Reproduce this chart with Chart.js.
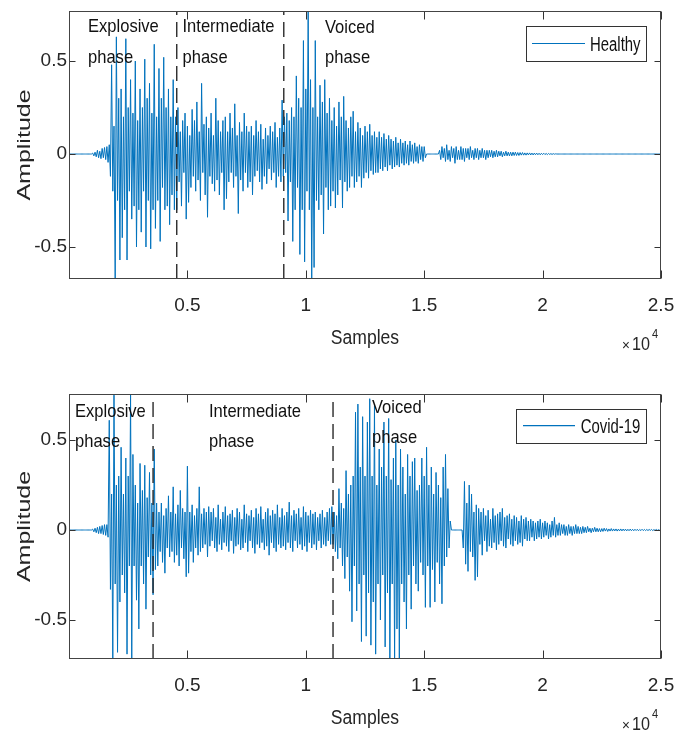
<!DOCTYPE html>
<html><head><meta charset="utf-8">
<script src="https://cdn.jsdelivr.net/npm/chart.js@4.4.1/dist/chart.umd.min.js"></script>
<style>
html,body{margin:0;padding:0;background:#fff;}
#wrap{position:relative;width:686px;height:731px;overflow:hidden;background:#fff}
canvas{position:absolute;left:0}
</style></head><body>
<div id="wrap">
<canvas id="cTop" width="686" height="366" style="top:0px"></canvas>
<canvas id="cBot" width="686" height="365" style="top:366px"></canvas>
</div>
<script>
// ---------------- data ----------------
const sampleStep = 50;                  // samples between successive readings
const xTickValues = [5000, 10000, 15000, 20000, 25000];
const yTickValues = [-0.5, 0, 0.5];
const xAxisTitle = 'Samples';
const yAxisTitle = 'Amplitude';
const phaseNames = [['Explosive', 'phase'], ['Intermediate', 'phase'], ['Voiced', 'phase']];

const healthyLabel = 'Healthy';
const healthyAmp = [
  // silence
  0,0,0,0,0,0,0,0,0,0,0,0,0,0,0,0,0,0,0,0,
  // onset noise
  0.005,-0.01,0.01,-0.015,0.02,-0.02,0.015,-0.025,0.03,-0.02,0.035,-0.03,0.04,-0.045,
  // explosive phase
  0.05,-0.12,0.48,-0.20,0.15,-0.67,0.63,-0.25,0.30,-0.57,0.35,-0.45,0.20,-0.30,0.62,-0.57,0.25,-0.20,0.40,-0.35,
  0.22,-0.28,0.50,-0.50,0.18,-0.30,0.35,-0.42,0.25,-0.20,0.51,-0.50,0.30,-0.25,0.38,-0.51,0.22,-0.30,0.59,-0.40,
  0.20,-0.25,0.46,-0.47,0.30,-0.18,0.52,-0.30,0.25,-0.28,0.35,-0.38,0.20,-0.22,0.40,-0.30,0.20,-0.30,
  // intermediate phase
  0.25,-0.15,0.12,-0.28,0.18,-0.10,0.22,-0.35,0.15,-0.26,0.10,-0.18,0.24,-0.12,0.18,-0.20,0.28,-0.14,0.12,-0.25,
  0.38,-0.10,0.16,-0.22,0.20,-0.34,0.14,-0.12,0.22,-0.16,0.10,-0.20,0.30,-0.14,0.18,-0.22,0.12,-0.10,0.18,-0.30,
  0.20,-0.24,0.12,-0.15,0.22,-0.10,0.14,-0.18,0.27,-0.12,0.10,-0.32,0.17,-0.14,0.12,-0.20,0.22,-0.10,0.15,-0.18,
  0.12,-0.15,0.15,-0.22,0.10,-0.12,0.18,-0.09,0.12,-0.15,0.16,-0.19,0.08,-0.12,0.14,-0.16,0.10,-0.08,0.15,-0.14,
  0.12,-0.10,0.17,-0.18,0.09,-0.12,0.14,-0.15,0.29,-0.12,
  // voiced phase
  0.20,-0.10,0.22,-0.36,0.18,-0.15,0.25,-0.47,0.20,-0.30,0.42,-0.18,0.30,-0.54,0.25,-0.30,0.61,-0.58,0.35,-0.20,
  0.77,-0.30,0.40,-0.67,0.25,-0.61,0.61,-0.25,0.20,-0.30,0.37,-0.22,0.28,-0.43,0.40,-0.18,0.22,-0.30,0.30,-0.28,
  0.18,-0.20,0.25,-0.29,0.15,-0.22,0.28,-0.14,0.20,-0.29,0.31,-0.15,0.18,-0.20,0.14,-0.18,0.20,-0.12,0.23,-0.18,
  0.12,-0.15,0.17,-0.12,0.14,-0.18,0.10,-0.13,0.15,-0.10,0.12,-0.13,0.16,-0.09,0.10,-0.11,0.12,-0.10,0.09,-0.10,
  0.12,-0.08,0.09,-0.09,0.11,-0.07,0.08,-0.09,0.10,-0.06,0.08,-0.08,0.07,-0.07,0.09,-0.06,0.06,-0.07,0.08,-0.05,
  0.06,-0.06,0.07,-0.05,0.05,-0.06,0.07,-0.04,0.05,-0.05,0.06,-0.04,0.04,-0.05,0.05,-0.03,0.04,-0.04,0.04,-0.02,
  // pause
  0,0,0,0,0,0,0,0,0,0,0,
  // decaying tail
  0.02,-0.03,0.04,-0.02,0.03,-0.04,0.05,-0.03,0.02,-0.04,0.04,-0.02,0.03,-0.05,0.04,-0.03,0.02,-0.03,0.04,-0.03,
  0.03,-0.04,0.03,-0.02,0.03,-0.03,0.04,-0.02,0.02,-0.03,0.03,-0.02,0.03,-0.03,0.02,-0.02,0.03,-0.02,0.02,-0.03,
  0.02,-0.02,0.02,-0.015,0.02,-0.02,0.015,-0.015,0.02,-0.015,0.015,-0.01,0.015,-0.015,0.01,-0.01,0.015,-0.01,0.01,-0.01,
  0.01,-0.01,0.01,-0.008,0.01,-0.008,0.008,-0.008,0.008,-0.006,0.008,-0.006,0.006,-0.006,0.006,-0.005,0.006,-0.005,0.005,-0.005,
  0.005,-0.004,0.005,-0.004,0.004,-0.004,0.004,-0.003,0.004,-0.003,0.003,-0.003,0.003,-0.002,0.002,-0.002,0.002,-0.001,0.001,
  // silence
  0,0,0,0,0,0,0,0,0,0,0,0,0,0,0,0,0,0,0,0,0,0,0,0,0,0,0,0,0,0,
  0,0,0,0,0,0,0,0,0,0,0,0,0,0,0,0,0,0,0,0,0,0,0,0,0,0,0,0,0,0,
  0,0,0,0,0,0,0,0,0,0,0,0,0,0,0,0,0,0,0,0,0,0,0,0,0,0,0,0,0
];
const healthyPhaseBounds = [4550, 9070];
const healthyYRange = [-0.672, 0.769];

const covidLabel = 'Covid-19';
const covidAmp = [
  // silence
  0,0,0,0,0,0,0,0,0,0,0,0,0,0,0,0,0,0,0,0,
  // onset noise
  0.005,-0.01,0.01,-0.015,0.015,-0.02,0.02,-0.02,0.025,-0.025,0.03,-0.03,0.03,-0.04,
  // explosive phase
  0.61,-0.33,0.20,-0.72,0.75,-0.30,0.25,-0.68,0.30,-0.40,0.46,-0.25,0.20,-0.35,0.40,-0.69,0.30,-0.20,0.75,-0.72,
  0.42,-0.20,0.25,-0.39,0.15,-0.55,0.37,-0.20,0.22,-0.30,0.36,-0.44,0.18,-0.15,0.32,-0.25,0.15,-0.36,0.45,-0.22,
  // intermediate phase
  0.15,-0.20,0.10,-0.12,0.15,-0.18,0.08,-0.24,0.12,-0.10,0.19,-0.15,0.10,-0.12,0.24,-0.18,0.09,-0.14,0.14,-0.20,
  0.22,-0.10,0.12,-0.16,0.10,-0.26,0.355,-0.24,0.10,-0.12,0.14,-0.18,0.08,-0.10,0.12,-0.14,0.24,-0.12,0.09,-0.10,
  0.12,-0.08,0.10,-0.15,0.13,-0.09,
  0.10,-0.06,0.12,-0.10,0.07,-0.12,0.14,-0.08,0.06,-0.11,0.10,-0.07,0.13,-0.09,0.08,-0.12,0.09,-0.06,0.11,-0.13,
  0.07,-0.09,0.12,-0.08,0.10,-0.11,0.06,-0.10,0.14,-0.07,0.09,-0.12,0.08,-0.06,0.11,-0.10,0.07,-0.13,0.12,-0.08,
  0.09,-0.10,0.13,-0.07,0.06,-0.11,0.10,-0.09,0.12,-0.14,0.08,-0.07,0.11,-0.10,0.09,-0.12,0.14,-0.08,0.07,-0.10,
  0.12,-0.09,0.08,-0.11,0.10,-0.07,0.155,-0.10,0.08,-0.12,0.11,-0.06,0.09,-0.10,0.12,-0.08,0.07,-0.11,0.13,-0.09,
  0.10,-0.12,0.08,-0.07,0.11,-0.10,0.09,-0.08,0.10,-0.11,0.07,-0.06,0.09,-0.10,0.11,-0.08,0.07,-0.09,0.10,-0.06,
  0.12,-0.08,0.13,
  // voiced phase
  -0.08,0.10,-0.12,0.08,-0.16,0.23,-0.10,0.15,-0.20,0.12,-0.27,0.33,-0.15,0.20,-0.34,0.25,-0.51,0.30,-0.20,0.655,
  -0.45,0.70,-0.30,0.35,-0.62,0.63,-0.25,0.30,-0.59,0.60,-0.35,0.73,-0.64,0.30,-0.40,0.70,-0.69,0.25,-0.30,0.45,
  -0.50,0.35,-0.25,0.60,-0.65,0.30,-0.35,0.62,-0.72,0.28,-0.30,0.40,-0.72,0.50,-0.55,0.25,-0.72,0.45,-0.30,0.35,
  -0.40,0.20,-0.55,0.42,-0.25,0.30,-0.44,0.38,-0.20,0.40,-0.30,0.22,-0.34,0.25,-0.18,0.40,-0.25,0.30,-0.43,0.46,
  -0.20,0.25,-0.43,0.35,-0.22,0.20,-0.40,0.32,-0.18,0.25,-0.30,0.18,-0.41,0.35,-0.20,0.42,-0.15,0.23,-0.10,0.05,
  // pause
  0,0,0,0,0,0,0,0,0,0,
  // decaying tail
  -0.10,0.27,-0.19,0.15,-0.23,0.25,-0.12,0.20,-0.15,0.10,-0.28,0.14,-0.26,0.12,-0.08,0.10,-0.14,0.12,-0.06,0.08,
  -0.12,0.11,-0.09,0.06,-0.10,0.12,-0.07,0.08,-0.11,0.09,-0.08,0.10,-0.06,0.12,-0.09,0.07,-0.10,0.08,-0.05,0.09,
  -0.08,0.06,-0.09,0.08,-0.06,0.07,-0.08,0.05,-0.07,0.08,-0.09,0.06,-0.05,0.07,-0.06,0.05,-0.06,0.06,-0.04,0.05,
  -0.06,0.04,-0.05,0.05,-0.04,0.06,-0.05,0.04,-0.04,0.05,-0.03,0.04,-0.05,0.03,-0.04,0.05,-0.03,0.07,-0.04,0.03,
  -0.03,0.04,-0.03,0.03,-0.02,0.03,-0.03,0.02,-0.03,0.03,-0.02,0.02,-0.03,0.02,-0.02,0.03,-0.02,0.02,-0.02,0.015,
  -0.02,0.02,-0.015,0.015,-0.015,0.02,-0.01,0.01,-0.015,0.01,-0.01,0.015,-0.01,0.01,-0.01,0.008,-0.01,0.008,-0.008,0.01,
  -0.006,0.008,-0.008,0.006,-0.006,0.008,-0.006,0.006,-0.005,0.006,-0.006,0.005,-0.005,0.006,-0.005,0.005,-0.004,0.005,-0.005,0.004,
  -0.004,0.005,-0.004,0.004,-0.004,0.004,-0.003,0.004,-0.004,0.003,-0.003,0.004,-0.003,0.003,-0.003,0.003,-0.003,0.003,-0.002,0.003,
  -0.003,0.002,-0.002,0.003,-0.002,0.002,-0.002,0.002
];
const covidPhaseBounds = [3550, 11150];
const covidYRange = [-0.717, 0.756];

// ---------------- drawing helpers ----------------
const FONT = '"Liberation Sans", Arial, Helvetica, sans-serif';
function sText(ctx, str, x, y, size, sx, o) {
  o = o || {};
  ctx.save();
  ctx.font = size + 'px ' + FONT;
  ctx.fillStyle = o.color || '#000';
  ctx.textBaseline = o.baseline || 'alphabetic';
  ctx.textAlign = 'left';
  ctx.translate(x, y);
  if (o.rot) ctx.rotate(o.rot);
  ctx.scale(sx, 1);
  const w = ctx.measureText(str).width;
  let dx = 0;
  if (o.align === 'center') dx = -w / 2; else if (o.align === 'right') dx = -w;
  ctx.fillText(str, dx, 0);
  ctx.restore();
}

function makeChart(canvasId, amp, label, bounds, yRange, L) {
  const pts = amp.map((v, i) => ({ x: i * sampleStep, y: v }));
  const datasets = [{
    label: label, data: pts, borderColor: '#0072BD', borderWidth: 1,
    pointRadius: 0, tension: 0, order: 2, fill: false
  }];
  bounds.forEach(b => datasets.push({
    label: '', data: [{ x: b, y: yRange[0] }, { x: b, y: yRange[1] }],
    borderColor: '#2a2a2a', borderWidth: 1.4, borderDash: [15, 7],
    pointRadius: 0, order: 1, fill: false
  }));

  const frame = {
    id: 'frame',
    afterDatasetsDraw(chart) {
      const ctx = chart.ctx, a = chart.chartArea;
      const xs = chart.scales.x, ys = chart.scales.y;
      const l = Math.round(a.left) + 0.5, r = Math.round(a.right) - 0.5;
      const t = Math.round(a.top) + 0.5, b = Math.round(a.bottom) - 0.5;
      ctx.save();
      // inward tick marks on all four sides
      ctx.strokeStyle = '#333'; ctx.lineWidth = 1;
      ctx.beginPath();
      xTickValues.forEach(v => {
        const px = Math.round(xs.getPixelForValue(v)) + 0.5;
        ctx.moveTo(px, b); ctx.lineTo(px, b - 8);
        ctx.moveTo(px, t); ctx.lineTo(px, t + 8);
      });
      yTickValues.forEach(v => {
        const py = Math.round(ys.getPixelForValue(v)) + 0.5;
        ctx.moveTo(l, py); ctx.lineTo(l + 6, py);
        ctx.moveTo(r, py); ctx.lineTo(r - 6, py);
      });
      ctx.stroke();
      // axes box
      ctx.strokeStyle = '#444';
      ctx.strokeRect(l, t, r - l, b - t);

      // phase annotations
      L.notes.forEach((n, k) => {
        sText(ctx, phaseNames[k][0], n[0], n[1], 18.6, 0.89, { color: '#111' });
        sText(ctx, phaseNames[k][1], n[0], n[2], 18.6, 0.89, { color: '#111' });
      });

      // legend box
      const g = L.legend;
      ctx.fillStyle = '#fff';
      ctx.fillRect(g.x0, g.y0, g.x1 - g.x0, g.y1 - g.y0);
      ctx.strokeStyle = '#333'; ctx.lineWidth = 1;
      ctx.strokeRect(g.x0 + 0.5, g.y0 + 0.5, g.x1 - g.x0 - 1, g.y1 - g.y0 - 1);
      ctx.strokeStyle = '#0072BD'; ctx.lineWidth = 1.2;
      ctx.beginPath(); ctx.moveTo(g.lx0, g.ly); ctx.lineTo(g.lx1, g.ly); ctx.stroke();
      sText(ctx, chart.data.datasets[0].label, g.tx, g.tb, 19.5, 0.765, { color: '#111' });

      // axis titles
      sText(ctx, xAxisTitle, (a.left + a.right) / 2, a.bottom + 60, 19.5, 0.9,
        { align: 'center', baseline: 'middle', color: '#262626' });
      sText(ctx, yAxisTitle, 25, (a.top + a.bottom) / 2, 18.4, 1.36,
        { align: 'center', baseline: 'middle', rot: -Math.PI / 2, color: '#262626' });

      // x10^4 exponent label
      sText(ctx, '\u00d7', 622, a.bottom + 71, 15, 0.9, { color: '#262626' });
      sText(ctx, '10', 632, a.bottom + 71, 19, 0.85, { color: '#262626' });
      sText(ctx, '4', 652, a.bottom + 59, 13, 0.85, { color: '#262626' });
      ctx.restore();
    }
  };

  return new Chart(document.getElementById(canvasId), {
    type: 'line',
    data: { datasets: datasets },
    options: {
      responsive: false, animation: false, devicePixelRatio: 1,
      layout: { padding: { top: L.padTop, right: 25, left: 0, bottom: 0 } },
      plugins: { legend: { display: false }, tooltip: { enabled: false } },
      scales: {
        x: {
          type: 'linear', min: 0, max: 25000,
          grid: { display: false, drawTicks: false }, border: { display: false },
          afterBuildTicks: s => { s.ticks = xTickValues.map(v => ({ value: v })); },
          afterFit: s => { s.height = L.xH; s.paddingLeft = 0; s.paddingRight = 0; },
          ticks: {
            autoSkip: false, maxRotation: 0, padding: 15, color: '#262626',
            font: { family: FONT, size: 19 },
            callback: v => String(v / 10000)
          }
        },
        y: {
          type: 'linear', min: yRange[0], max: yRange[1],
          grid: { display: false, drawTicks: false }, border: { display: false },
          afterBuildTicks: s => { s.ticks = yTickValues.map(v => ({ value: v })); },
          afterFit: s => { s.width = 69; s.paddingTop = 0; s.paddingBottom = 0; },
          ticks: {
            padding: 2, color: '#262626',
            font: { family: FONT, size: 19 },
            callback: v => String(v)
          }
        }
      }
    },
    plugins: [frame]
  });
}

makeChart('cTop', healthyAmp, healthyLabel, healthyPhaseBounds, healthyYRange, {
  padTop: 11, xH: 87,
  notes: [[88, 32.3, 63.3], [182.5, 32.3, 63.3], [325, 33, 63]],
  legend: { x0: 526, y0: 26, x1: 647, y1: 62, lx0: 532, lx1: 585, ly: 43.5, tx: 590, tb: 50.7 }
});
makeChart('cBot', covidAmp, covidLabel, covidPhaseBounds, covidYRange, {
  padTop: 28, xH: 72,
  notes: [[75, 51.3, 80.7], [209, 51.3, 80.7], [372, 47.3, 77.3]],
  legend: { x0: 516, y0: 43, x1: 647, y1: 78, lx0: 523, lx1: 575, ly: 59.7, tx: 580.7, tb: 67.3 }
});
</script>
</body></html>
